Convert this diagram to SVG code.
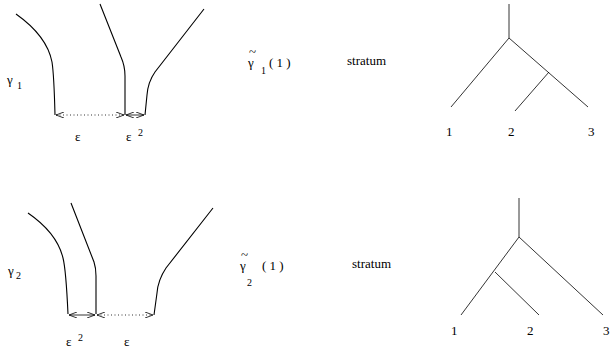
<svg xmlns="http://www.w3.org/2000/svg" width="611" height="351" viewBox="0 0 611 351">
<defs>
<marker id="ah" viewBox="0 0 8 6" refX="8" refY="3" markerWidth="8" markerHeight="6" markerUnits="userSpaceOnUse" orient="auto-start-reverse">
<path d="M0,0 L8,3 L0,6" fill="none" stroke="#000" stroke-width="0.8"/>
</marker>
</defs>
<style>
.c{fill:none;stroke:#000;stroke-width:1.1}
.d{fill:none;stroke:#000;stroke-width:0.8;stroke-dasharray:1 2.5}
.s{fill:none;stroke:#000;stroke-width:0.8}
text{font-family:Liberation Serif,DejaVu Serif,serif;font-size:13px}
.sub{font-size:10px}
</style>
<rect width="611" height="351" fill="#fff"/>
<g id="top-curves">
<path class="c" d="M16,14 Q47,36 52,62 Q54,75 55,115"/>
<path class="c" d="M100,4 L121,57 Q125,66 125,76 L125,115"/>
<path class="c" d="M204,9 L155,72 Q148,82 147,95 L145,115"/>
</g>
<g id="bottom-curves">
<path class="c" d="M28,213 Q57,233 63,258 Q66,270 68,314"/>
<path class="c" d="M71,203 L94,262 Q96,268 96,276 L96,314"/>
<path class="c" d="M213,208 L166,268 Q158,280 157,293 L154,315"/>
</g>
<g id="connectors">
<line class="d" x1="56" y1="115" x2="124" y2="115" marker-start="url(#ah)" marker-end="url(#ah)"/>
<line class="s" x1="126" y1="115" x2="144" y2="115" marker-start="url(#ah)" marker-end="url(#ah)"/>
<line class="s" x1="69" y1="315" x2="95" y2="315" marker-start="url(#ah)" marker-end="url(#ah)"/>
<line class="d" x1="97" y1="315" x2="153" y2="315" marker-start="url(#ah)" marker-end="url(#ah)"/>
</g>
<g id="labels-top">
<text x="7" y="84">γ</text>
<text class="sub" x="17" y="89">1</text>
<text x="75" y="141">ε</text>
<text x="126" y="141">ε</text>
<text class="sub" x="138" y="136">2</text>
<text x="248" y="67">γ</text>
<text x="249" y="56">~</text>
<text class="sub" x="261" y="74">1</text>
<text x="269" y="67">( 1 )</text>
<text x="347" y="65">stratum</text>
</g>
<g id="labels-bottom">
<text x="8" y="275">γ</text>
<text class="sub" x="16" y="279">2</text>
<text x="66" y="346">ε</text>
<text class="sub" x="78" y="341">2</text>
<text x="124" y="346">ε</text>
<text x="240" y="270">γ</text>
<text x="241" y="259">~</text>
<text class="sub" x="247" y="286">2</text>
<text x="262" y="270">( 1 )</text>
<text x="352" y="268">stratum</text>
</g>
<g id="tree1">
<path class="s" d="M509,4 L509,38 M451,107 L509,38 L588,107 M549,72 L515,111"/>
<text x="446" y="136">1</text>
<text x="508" y="136">2</text>
<text x="588" y="136">3</text>
</g>
<g id="tree2">
<path class="s" d="M519,198 L519,237 M461,315 L519,237 L603,315 M495,272 L539,315"/>
<text x="451" y="335">1</text>
<text x="527" y="335">2</text>
<text x="603" y="335">3</text>
</g>
</svg>
